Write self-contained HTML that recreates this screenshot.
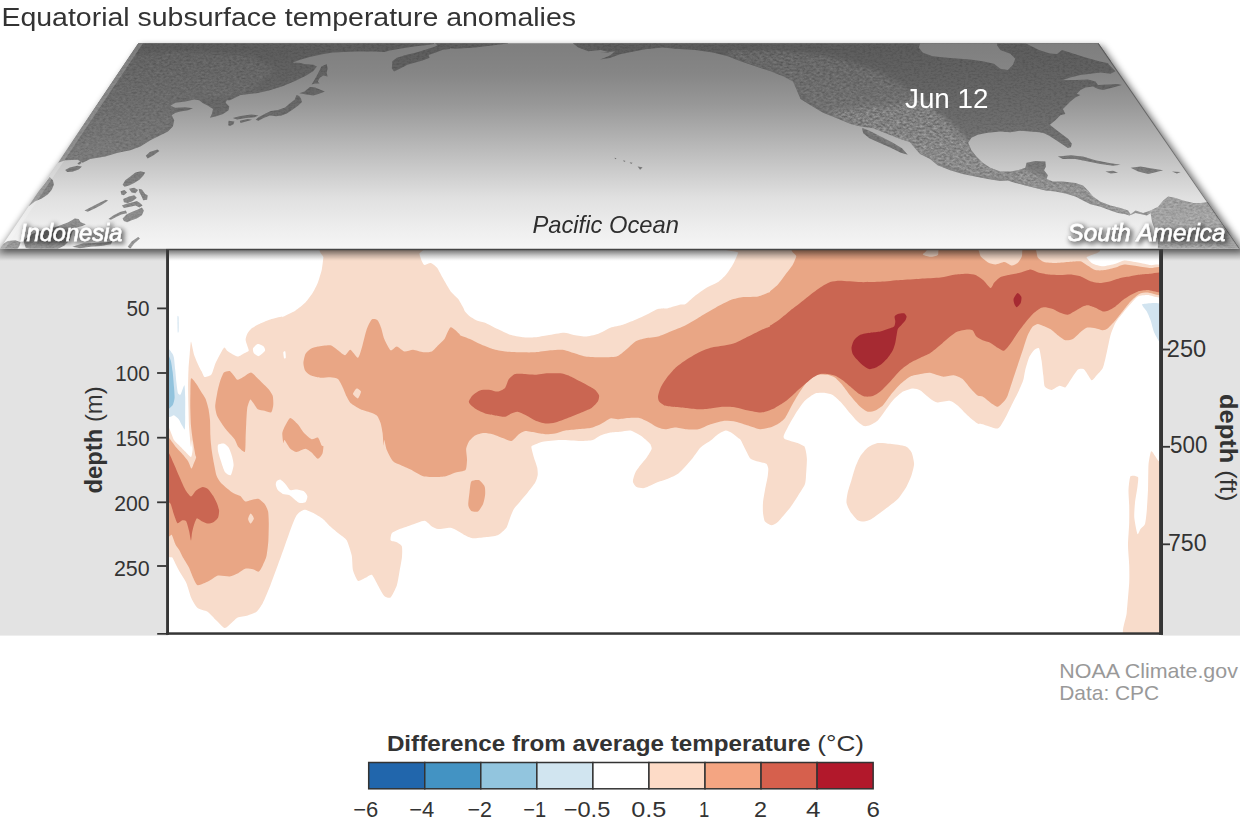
<!DOCTYPE html>
<html lang="en"><head><meta charset="utf-8"><title>Equatorial subsurface temperature anomalies</title>
<style>
html,body{margin:0;padding:0;background:#fff;}
svg{display:block;}
text{font-family:'Liberation Sans', sans-serif;}
</style></head>
<body>
<svg width="1240" height="826" viewBox="0 0 1240 826">
<defs>
<linearGradient id="ocean" x1="0" y1="43" x2="0" y2="249" gradientUnits="userSpaceOnUse">
<stop offset="0" stop-color="#7e7e7e"/><stop offset="0.15" stop-color="#868686"/><stop offset="0.3" stop-color="#989898"/><stop offset="0.5" stop-color="#b8b8b8"/><stop offset="0.75" stop-color="#e0e0e0"/><stop offset="0.9" stop-color="#eeeeee"/><stop offset="1" stop-color="#f5f5f5"/>
</linearGradient>
<linearGradient id="landg" x1="0" y1="43" x2="0" y2="249" gradientUnits="userSpaceOnUse">
<stop offset="0" stop-color="#5c5c5c"/><stop offset="0.27" stop-color="#686868"/><stop offset="0.42" stop-color="#707070"/><stop offset="0.62" stop-color="#7d7d7d"/><stop offset="0.81" stop-color="#8d8d8d"/><stop offset="1" stop-color="#9e9e9e"/>
</linearGradient>
<linearGradient id="shade" x1="0" y1="249" x2="0" y2="261" gradientUnits="userSpaceOnUse">
<stop offset="0" stop-color="#000" stop-opacity="0.16"/><stop offset="0.35" stop-color="#000" stop-opacity="0.12"/><stop offset="0.7" stop-color="#000" stop-opacity="0.08"/><stop offset="1" stop-color="#000" stop-opacity="0"/>
</linearGradient>
<clipPath id="trap"><path d="M138.3,43.3 L1098.5,43.3 L1240,248.7 L0,248.7 Z"/></clipPath>
<clipPath id="landclip">
<path d="M139.1,40 L58.1,162.8 L65.2,160.3 L77.7,159.8 L82.7,162.8 L90.2,159 L105.3,156.5 L117.8,152.8 L130.3,150.3 L140.4,146.5 L150.4,140.3 L160.4,135.2 L167.9,131.5 L172.9,126.5 L174.2,120.2 L171.7,115.2 L175.4,112.7 L180.5,111.4 L188,110.2 L193,108.2 L185.5,107.2 L175.4,107.7 L170.4,105.7 L175.4,102.7 L185.5,101.4 L194.2,99.6 L199.2,100.2 L203,103.2 L208,105.7 L213,108.9 L211.8,113.9 L210,117.7 L215.5,116.4 L223.1,113.9 L228.6,110.2 L229.3,106.4 L225.6,102.7 L226.8,100.2 L230,100.3 L240.6,95 L256.6,93.2 L269,90.6 L283.2,86.1 L295.6,80.8 L306.3,75.5 L313.4,71.1 L316.9,66.6 L313.4,64.8 L304.5,64 L299.2,62.7 L292.1,62.7 L301,59.5 L309.8,56.9 L322.3,54.2 L332.9,52.4 L354.2,51.5 L375.5,51.5 L384.4,52.1 L389.7,50.6 L398.6,48.9 L407.4,47.5 L416.3,46.2 L425.2,45.3 L434,43.9 L434,40Z"/>
<path d="M326.7,64 L327.6,68.4 L326.7,72.8 L327.6,76.4 L323.2,75.5 L319.6,78.1 L317.8,81.7 L319.6,83.5 L315.2,83.5 L311.6,84.4 L314.3,79.9 L316.9,75.5 L319.6,70.2 L321.4,66.6Z"/>
<path d="M299.2,93.2 L304.5,91.5 L309.8,87 L315.2,87.6 L320.5,89.7 L324.9,91.5 L320.5,93.2 L313.4,95.4 L306.3,94.6Z"/>
<path d="M301,98.6 L301.9,102.1 L298.3,105.6 L292.1,110.1 L286.8,113.6 L281.5,115.4 L276.1,116.3 L269.9,115.4 L263.7,118.1 L258.4,120.7 L255.7,119.8 L258.4,117.2 L265.5,113.6 L270.8,111 L277.9,110.1 L285,107.4 L290.3,103 L294.8,99.4 L296.5,95 L299.2,95.9Z"/>
<path d="M232.7,118.1 L240.6,115.9 L251.3,114.5 L258.4,115.4 L254.8,117.2 L246,118.1 L237.1,119.5Z"/>
<path d="M239.8,120.7 L247.7,119 L252.2,119.8 L246,121.6 L240.6,123Z"/>
<path d="M228.6,120.7 L234.4,121.6 L233.5,124.3 L230,126.1 L228.2,125.2Z"/>
<path d="M392.3,61.3 L396.8,57.7 L405.7,55.1 L416.3,52.4 L425.2,49.8 L434,47.1 L439.4,44.4 L450,43.9 L450,48.9 L442.9,49.8 L435.8,52.4 L428.7,55.1 L429.6,57.7 L422.5,60.4 L416.3,62.2 L407.4,64.8 L400.3,68.4 L394.1,71.6 L391.8,68.4Z"/>
<path d="M420.3,40 L435.3,43.5 L440.4,47.5 L455.4,48.8 L475.4,47.5 L495.5,45 L508,43.5 L508,40Z"/>
<path d="M573.2,40 L573.2,43.5 L578.2,47.5 L588.2,51.3 L600.8,50 L610,52.5 L600,52.5 L607.5,52 L615,51.3 L610,55.5 L600,59.5 L610,58 L620.1,54.3 L632.6,51.8 L645.1,49.3 L662.7,47.5 L675.2,48.8 L695.2,50 L712.8,52.5 L727.8,56.3 L740.4,61.3 L755.4,66.3 L770.4,71.3 L783,76.3 L793,81.4 L796.7,90.1 L800.5,98.9 L810.5,105.2 L823.1,112.7 L835.6,117.7 L850.6,124 L860.7,126.5 L873.2,128.2 L885.7,133.2 L898.2,138.2 L910,142.3 L915,148.3 L920.1,154 L930.1,159 L937.6,165.3 L950.1,170.3 L962.7,174.1 L975.2,176.6 L987.7,179.1 L1000.3,180.9 L1007.8,180.4 L1015.3,182.9 L1025.3,185.4 L1035.3,187.9 L1045.4,190.4 L1055.4,191.6 L1065.4,193.4 L1075.4,196.6 L1083,200.4 L1090.5,204.2 L1100.5,206.7 L1110.5,210.4 L1118,212.9 L1125.6,214.2 L1129.3,215.4 L1135.6,212.9 L1146.9,215.4 L1150.6,212.9 L1152.1,222 L1155.9,232 L1157.9,240 L1157.9,251 L1240.9,251 L1240.9,200.4 L1210,201.7 L1200.8,202.9 L1193.2,202.9 L1183.2,200.4 L1175.7,197.9 L1168.2,196.6 L1163.2,200.4 L1158.1,206.7 L1150.6,210.4 L1143.1,212.9 L1135.6,210.4 L1130.6,214.2 L1128.1,210.4 L1120.6,207.9 L1110.5,205.4 L1100.5,201.7 L1093,196.6 L1088,190.4 L1083,185.4 L1075.4,182.9 L1062.9,181.6 L1052.9,181.6 L1046.6,179.1 L1047.9,175.3 L1044.1,170.3 L1045.9,166.6 L1045.4,161.6 L1035.3,161.1 L1026.6,162.8 L1025.3,167.8 L1017.8,170.3 L1010.3,171.6 L1000.3,171.6 L990.2,167.8 L982.7,162.8 L976.4,156.5 L971.4,150.3 L968.2,142.8 L971.4,137.7 L977.7,134.7 L987.7,132.7 L1000.3,131.5 L1010.3,132.2 L1020.3,130.7 L1030.3,131.5 L1039.1,132.2 L1044.1,133.2 L1049.1,135.7 L1055.4,139.7 L1062.9,144.8 L1067.9,148 L1070.9,147.3 L1071.9,143.8 L1068.4,139 L1061.7,134 L1054.9,128.7 L1049.9,124.7 L1055.4,120.2 L1060.4,115.2 L1065.4,113.9 L1062.9,108.9 L1066.7,105.2 L1070.4,101.4 L1075.4,97.6 L1080.5,95.1 L1076.7,93.9 L1080.5,90.1 L1085.5,87.6 L1093,86.4 L1098,88.9 L1103,90.1 L1113,87.6 L1121.8,85.1 L1118,83.9 L1108,84.6 L1098,85.1 L1095.5,81.4 L1088,79.6 L1075.4,80.1 L1062.9,80.1 L1070.4,77.6 L1080.5,75.1 L1090.5,73.8 L1100.5,72.6 L1110.5,73.8 L1115.5,71.3 L1108,63.8 L1115.5,55 L1100.5,40Z"/>
<path d="M861.9,127.7 L869.4,130.7 L880.7,136.5 L892,142.3 L902,148.3 L907.8,154.8 L900.8,152.8 L890.7,147.8 L878.2,142.3 L869.4,138.2 L863.2,133.2Z"/>
<path d="M1057.9,156.5 L1070.4,155.3 L1083,156.5 L1095.5,160.3 L1108,162.8 L1120.6,164.8 L1113,165.8 L1100.5,164.1 L1088,161.6 L1075.4,159 L1062.9,159Z"/>
<path d="M1130.6,167.8 L1140.6,166.6 L1150.6,168.3 L1163.2,170.3 L1155.6,172.3 L1148.1,174.1 L1138.1,171.6Z"/>
<path d="M1105.5,171.6 L1113,170.8 L1118,172.8 L1110.5,173.6Z"/>
<path d="M1171.9,171.6 L1180.7,172.1 L1176.9,173.6Z"/>
<path d="M637.6,166.6 L642.6,167.3 L640.1,169.8Z"/>
<path d="M629.6,162.3 L632.6,162.8 L631.1,164.1Z"/>
<path d="M623.1,160.3 L625.6,161.1 L624.1,162.1Z"/>
<path d="M614.5,157.8 L616.5,158.3 L615.3,159.3Z"/>
<path d="M65.2,170 L69.7,167.4 L77.4,165.7 L81.9,166.5 L78.7,169.4 L72.3,171.7 L67.1,171.9Z"/>
<path d="M77.4,163.5 L80.6,161 L81.5,162.9 L79,164.7Z"/>
<path d="M25.8,206.8 L31.6,201 L37.4,192.6 L43.9,184.8 L49.7,177.1 L52.9,180.3 L53.9,184.8 L51.6,190 L47.7,194.5 L41.3,198.8 L34.8,201.4 L29.7,205.5Z"/>
<path d="M145.8,155.8 L149.7,151.9 L157.4,149.4 L159.4,151 L153.5,155.2 L147.7,158.4Z"/>
<path d="M122.6,184.8 L125.2,180.3 L130.3,176.5 L135.5,172.6 L140.6,171.3 L145.2,172.6 L143.2,175.8 L139.4,179.7 L134.2,182.9 L129,185.5 L124.5,186.8Z"/>
<path d="M120.6,191.3 L124.5,190 L127.1,192.6 L123.9,195.2 L121.3,194.5Z"/>
<path d="M129,188.7 L134.2,187.7 L138.1,190 L135.5,193.2 L131.6,192.6Z"/>
<path d="M138.7,188.7 L141.9,189.4 L145.2,193.9 L147.7,195.2 L147.1,199.7 L143.2,200.3 L141.3,195.8 L139.4,192.6Z"/>
<path d="M123.2,199 L129,196.5 L134.2,195.2 L136.8,197.7 L132.9,201 L127.7,202.9 L123.9,202.3Z"/>
<path d="M121.9,205.5 L127.1,203.5 L132.9,202.3 L136.8,201 L140,202.9 L142.6,205.5 L139.4,207.4 L135.5,205.5 L130.3,206.8 L123.9,208.1Z"/>
<path d="M122.6,218.4 L126.5,214.5 L131.6,211.9 L136.8,210 L141.9,207.4 L143.9,210.6 L141.9,215.2 L136.8,218.4 L131.6,220.3 L127.1,222.3 L123.9,221Z"/>
<path d="M108.4,219 L113.5,215.2 L120,211.9 L125.8,210.6 L127.1,213.2 L121.3,214.5 L116.1,217.1 L111,219.7Z"/>
<path d="M84.5,210.6 L90.3,207.4 L98.1,203.5 L105.8,199.7 L108.1,200.6 L101.9,204.8 L94.2,208.7 L87.7,211.7Z"/>
<path d="M23.2,240.3 L32.3,233.9 L42.6,230 L54.2,227.4 L61.9,224.8 L68.4,222.3 L74.8,218.4 L78.7,219 L80.6,222.3 L85.8,224.2 L82.6,226.1 L76.1,227.4 L72.3,232.6 L69.7,240.3 L64.5,245.5 L56.8,249.4 L38.7,250.6 L25.8,248.1Z"/>
<path d="M-2.6,250.6 L1.3,244.8 L7.7,241 L15.5,240.3 L20.6,242.3 L19.4,246.1 L15.5,251.9 L-2.6,251.9Z"/>
<path d="M72.3,246.8 L82.6,243.5 L94.2,242.9 L107.1,242.3 L112.3,241 L111,244.2 L100.6,246.1 L90.3,246.8 L80,248.3Z"/>
<path d="M127.7,246.8 L131.6,241.6 L138.1,237.1 L140,238.4 L134.2,243.5 L130.3,248.7Z"/>
</clipPath>
<filter id="relief" x="0" y="0" width="100%" height="100%"><feTurbulence type="fractalNoise" baseFrequency="0.3 0.5" numOctaves="2" seed="7" result="n"/><feColorMatrix in="n" type="matrix" values="0 0 0 0 1  0 0 0 0 1  0 0 0 0 1  0.75 0 0 0 -0.2" result="w"/><feGaussianBlur in="SourceGraphic" stdDeviation="2.5" result="b"/><feComposite in="w" in2="b" operator="in"/></filter>
<filter id="grain" x="0" y="0" width="100%" height="100%"><feTurbulence type="fractalNoise" baseFrequency="0.35 0.55" numOctaves="2" seed="11" result="n"/><feColorMatrix in="n" type="matrix" values="0 0 0 0 0  0 0 0 0 0  0 0 0 0 0  0.3 0 0 0 -0.12" result="w"/><feComposite in="w" in2="SourceGraphic" operator="in"/></filter>
<clipPath id="plot"><rect x="168" y="249" width="993" height="384.5"/></clipPath>
<filter id="blur4" x="-5%" y="-20%" width="110%" height="140%"><feGaussianBlur stdDeviation="3.5"/></filter>
<filter id="tsh" x="-10%" y="-50%" width="125%" height="230%"><feMorphology in="SourceAlpha" operator="dilate" radius="1.1" result="d"/><feGaussianBlur in="d" stdDeviation="2.8" result="b"/><feOffset in="b" dx="2.2" dy="2.3" result="o"/><feComponentTransfer in="o" result="s"><feFuncA type="linear" slope="0.55"/></feComponentTransfer><feMerge><feMergeNode in="s"/><feMergeNode in="SourceGraphic"/></feMerge></filter>
</defs>
<rect width="1240" height="826" fill="#fff"/>
<!-- side panels -->
<rect x="0" y="249" width="1240" height="386.6" fill="#e3e3e3"/>
<rect x="168" y="249" width="993" height="387" fill="#fff"/>
<g clip-path="url(#plot)">
<path d="M191,341.6 C191.4,341.6 193.2,351.8 193.9,354.2 C194.6,356.6 197.0,362.0 197.8,363.9 C198.6,365.8 201.0,370.2 201.7,371.6 C202.4,373.0 203.6,376.7 204.6,377 C205.6,377.3 210.3,375.9 211.4,374.5 C212.5,373.1 214.3,366.1 215.2,363.9 C216.1,361.7 219.1,356.0 220.1,354.2 C221.1,352.4 223.5,347.7 224.3,347.4 C225.1,347.1 226.4,350.3 227.8,351.3 C229.2,352.3 235.7,356.3 237.5,356.5 C239.3,356.7 243.1,353.8 244.3,353.2 C245.5,352.6 248.4,351.5 248.7,350.7 C249.0,349.9 247.5,346.7 247.2,345.5 C246.9,344.3 245.6,340.9 245.6,339.7 C245.6,338.5 246.5,335.1 247.2,333.9 C247.9,332.7 250.6,329.2 252,328.1 C253.4,327.0 258.7,324.1 260.7,323.2 C262.7,322.3 268.1,320.1 270.4,319.4 C272.7,318.7 280.8,316.7 282,316.5 C283.2,316.3 280.7,317.8 282.1,317.2 C283.5,316.6 292.8,312.3 295.3,310.7 C297.8,309.1 303.5,304.5 305.4,302.6 C307.3,300.7 311.6,294.7 312.9,292.6 C314.2,290.5 317.0,285.0 317.9,282.6 C318.8,280.2 321.1,272.8 321.7,270.1 C322.3,267.4 323.1,259.9 323.4,257.5 C323.7,255.1 314.0,248.6 324.2,247.5 C334.4,246.4 409.2,246.8 419.4,247.5 C429.6,248.2 419.1,252.3 419.4,253.8 C419.7,255.3 421.4,260.1 421.9,261.3 C422.4,262.5 423.5,264.9 424.4,265.1 C425.3,265.3 429.4,262.7 430.7,263 C432.0,263.3 435.6,265.9 436.9,267.6 C438.2,269.3 441.7,276.3 443.2,278.8 C444.7,281.3 449.1,289.3 450.7,291.4 C452.3,293.5 456.9,297.2 458.2,298.9 C459.5,300.6 462.6,306.4 463.3,307.7 C464.0,309.0 464.3,310.5 465,311.4 C465.7,312.3 468.7,315.4 470,316.4 C471.3,317.4 475.9,320.0 477.5,320.7 C479.1,321.4 483.0,321.8 485.1,322.7 C487.2,323.6 494.9,327.7 497.6,329 C500.3,330.3 507.4,333.8 510.1,334.7 C512.8,335.6 520.0,336.9 522.7,337.2 C525.4,337.5 532.5,337.4 535.2,337.2 C537.9,337.0 544.6,335.7 547.7,335.2 C550.8,334.7 561.3,332.8 564,332.7 C566.7,332.6 570.5,334.3 572.8,334.7 C575.1,335.1 582.6,336.6 585.3,336.5 C588.0,336.4 595.1,334.9 597.8,334 C600.5,333.1 607.7,328.7 610.4,327.7 C613.1,326.7 620.2,325.6 622.9,324.7 C625.6,323.8 632.7,320.9 635.4,319.7 C638.1,318.5 645.6,315.1 648,313.9 C650.4,312.7 655.9,309.5 658,308.9 C660.1,308.3 665.6,308.7 668,308.2 C670.4,307.7 678.7,305.1 680.6,304.6 C682.5,304.1 684.1,304.8 685.6,303.9 C687.1,303.0 692.0,298.1 694.3,296.4 C696.6,294.7 704.4,289.1 706.9,287.6 C709.4,286.1 716.1,283.4 718.1,282.1 C720.1,280.8 724.2,276.8 725.7,275.1 C727.2,273.4 730.8,268.0 731.9,266.3 C733.0,264.6 735.0,260.3 735.7,258.8 C736.4,257.3 737.8,253.7 738.2,252.5 C738.6,251.3 702.6,248.0 739.4,247.5 C776.2,247.0 1045.9,246.4 1082.9,247.5 C1119.9,248.6 1085.5,255.8 1086.6,257.5 C1087.7,259.2 1091.2,262.9 1092.9,263.8 C1094.6,264.7 1100.5,266.3 1102.9,266.3 C1105.3,266.3 1113.2,264.4 1115.5,263.8 C1117.8,263.2 1121.8,260.6 1124.2,260.5 C1126.6,260.4 1135.2,262.0 1138,262.5 C1140.8,263.0 1148.1,264.7 1150.6,265.1 C1153.1,265.5 1160.6,263.0 1161.8,266.3 C1163.0,269.6 1163.3,293.3 1161.8,296.4 C1160.3,299.5 1150.5,295.1 1148,295.1 C1145.5,295.1 1139.9,295.5 1138,296.4 C1136.1,297.3 1132.1,302.2 1130.5,303.9 C1128.9,305.6 1124.6,310.7 1123,312.7 C1121.4,314.7 1116.8,320.3 1115.5,322.7 C1114.2,325.1 1111.4,332.0 1110.5,335.2 C1109.6,338.4 1107.5,349.3 1106.7,352.8 C1105.9,356.3 1104.0,365.4 1102.9,367.8 C1101.8,370.2 1097.9,374.0 1096.7,375.3 C1095.5,376.6 1092.8,380.6 1091.7,380.3 C1090.6,380.0 1087.5,374.0 1086.6,372.8 C1085.7,371.6 1084.3,369.4 1083.4,369.1 C1082.5,368.8 1079.3,368.4 1077.9,369.6 C1076.5,370.8 1071.7,378.4 1070.4,380.3 C1069.1,382.2 1066.5,386.8 1065.3,387.4 C1064.1,388.0 1060.6,385.6 1059.1,385.9 C1057.6,386.2 1053.1,389.8 1051.6,389.9 C1050.1,390.0 1045.7,388.2 1044.8,386.6 C1043.9,385.0 1043.7,378.1 1043.3,375.3 C1042.9,372.5 1042.0,363.2 1041.5,360.3 C1041.0,357.4 1039.8,349.4 1039,348.3 C1038.2,347.2 1035.1,349.3 1034,350.3 C1032.9,351.3 1029.9,355.7 1029,357.8 C1028.1,359.9 1025.8,367.9 1025.2,370.3 C1024.6,372.7 1023.9,378.2 1023.2,380.3 C1022.5,382.4 1020.1,388.0 1019,390.4 C1017.9,392.8 1014.2,400.0 1012.7,402.9 C1011.2,405.8 1006.8,415.2 1005.2,417.9 C1003.6,420.6 1000.1,427.8 997.7,428.5 C995.3,429.2 984.7,424.7 982.6,424.2 C980.5,423.7 979.2,424.3 977.6,423.4 C976.0,422.5 969.7,417.3 967.6,415.4 C965.5,413.5 959.5,406.9 957.6,405.4 C955.7,403.9 952.2,401.2 950.1,400.9 C948.0,400.6 939.6,402.7 937.5,402.4 C935.4,402.1 931.8,399.7 930,398.4 C928.2,397.1 922.2,391.5 920.4,390.4 C918.6,389.3 914.8,388.3 912.9,388.4 C911.0,388.5 905.0,390.3 902.9,391.6 C900.8,392.9 894.7,398.4 892.8,400.4 C890.9,402.4 886.9,408.3 885.3,410.4 C883.7,412.5 879.4,418.9 877.8,420.4 C876.2,421.9 871.8,424.3 870.3,424.9 C868.8,425.5 865.5,426.5 864,426 C862.5,425.5 858.2,422.1 856.5,420.4 C854.8,418.7 849.4,412.4 847.7,410.4 C846.0,408.4 841.8,403.3 840.2,401.6 C838.6,399.9 834.3,395.8 832.7,394.9 C831.1,394.0 827.1,393.1 825.2,392.9 C823.3,392.7 817.2,392.6 815.1,393.4 C813.0,394.2 807.0,398.6 805.1,400.4 C803.2,402.2 799.2,408.0 797.6,410.4 C796.0,412.8 791.6,420.2 790.1,422.9 C788.6,425.6 784.3,433.8 783.8,435.5 C783.3,437.2 783.6,438.4 785.1,439.2 C786.6,440.0 795.5,442.2 797.6,443 C799.7,443.8 805.1,446.8 805.1,446.8 C805.1,446.8 797.7,443.0 797.6,443 C797.5,443.0 803.6,445.3 804.6,447 C805.6,448.7 806.8,455.5 806.9,458.8 C807.0,462.1 806.1,474.8 805.9,477.6 C805.7,480.4 805.5,483.1 804.6,485.1 C803.7,487.1 799.1,494.0 797.6,496.4 C796.1,498.8 791.6,505.7 790.1,507.7 C788.6,509.7 785.1,513.7 783.8,515.2 C782.5,516.7 778.8,521.1 777.5,522.2 C776.2,523.3 772.6,525.3 771.3,525.2 C770.0,525.1 765.9,522.8 765,521.5 C764.1,520.2 763.2,514.7 763,512.7 C762.8,510.7 762.8,505.1 763,502.7 C763.2,500.3 764.5,492.8 765,490.1 C765.5,487.4 767.1,479.9 767.5,477.6 C767.9,475.3 768.4,470.3 768.3,468.8 C768.2,467.3 767.2,464.5 766.3,463.8 C765.4,463.1 761.7,462.6 760,462.1 C758.3,461.6 752.2,460.1 750.7,458.8 C749.2,457.5 746.8,452.0 745.7,450 C744.6,448.0 741.5,441.3 740.7,440 C739.9,438.7 739.1,438.7 738.2,438 C737.3,437.3 733.2,433.8 731.9,433 C730.6,432.2 727.2,430.4 725.7,430.5 C724.2,430.6 719.7,433.1 718.1,434.2 C716.5,435.3 712.5,439.1 710.6,440.5 C708.7,441.9 702.5,445.7 700.6,447.5 C698.7,449.3 694.7,455.5 693.1,457.5 C691.5,459.5 687.2,464.6 685.6,466.3 C684.0,468.0 679.9,472.5 678,473.8 C676.1,475.1 670.1,477.9 668,478.8 C665.9,479.7 659.9,481.4 658,482.1 C656.1,482.8 652.0,485.0 650.5,485.6 C649.0,486.2 645.7,487.9 644.2,488.1 C642.7,488.3 637.9,487.8 636.7,487.1 C635.5,486.4 633.0,482.9 632.9,481.4 C632.8,479.9 634.6,474.3 635.4,472.6 C636.2,470.9 639.3,466.7 640.5,465.1 C641.7,463.5 645.5,459.2 646.7,457.5 C647.9,455.8 651.4,450.5 651.7,448.8 C652.0,447.1 649.2,441.7 649.2,441.3 C649.2,440.9 651.8,445.5 651.7,445.5 C651.6,445.5 649.2,442.8 648,441.7 C646.8,440.6 642.4,436.7 640.5,435.5 C638.6,434.3 632.5,430.9 630.4,430.5 C628.3,430.1 622.5,431.5 620.4,431.7 C618.3,431.9 612.5,432.1 610.4,432.5 C608.3,432.9 602.3,434.7 600.4,435.5 C598.5,436.3 594.9,439.4 592.8,440 C590.7,440.6 583.8,441.0 580.3,441 C576.8,441.0 564.3,439.9 560.3,440 C556.3,440.1 545.6,441.1 542.7,441.7 C539.8,442.3 533.9,444.9 532.7,445.5 C531.5,446.1 531.3,446.2 531.4,447.5 C531.5,448.8 533.3,455.4 533.9,457.5 C534.5,459.6 536.8,465.7 537.2,467.6 C537.6,469.5 537.9,473.5 537.7,475.1 C537.5,476.7 536.3,480.7 535.2,482.6 C534.1,484.5 529.3,490.6 527.7,492.6 C526.1,494.6 521.7,499.7 520.2,501.4 C518.7,503.1 515.0,507.2 513.9,508.9 C512.8,510.6 510.9,515.7 510.1,517.7 C509.3,519.7 507.7,525.8 506.4,527.7 C505.1,529.6 499.9,534.2 497.6,535.2 C495.3,536.2 487.8,536.9 485.1,537.2 C482.4,537.5 474.6,538.4 472.5,538.2 C470.4,538.0 466.3,535.8 465,535.2 C463.7,534.6 461.5,533.0 460,532.2 C458.5,531.4 453.0,528.0 450.7,527.7 C448.4,527.4 440.2,529.1 438.2,529 C436.2,528.9 433.4,527.4 431.9,526.5 C430.4,525.6 426.7,520.8 424.4,520.7 C422.1,520.6 413.4,524.2 410.6,525.2 C407.8,526.2 400.1,528.8 398.1,529.7 C396.1,530.6 392.6,532.1 391.8,533.2 C391.0,534.3 390.1,539.3 390.6,540.3 C391.1,541.3 395.6,541.6 396.8,542.3 C398.0,543.0 401.4,544.8 401.9,546.5 C402.4,548.2 402.2,555.0 401.9,557.8 C401.6,560.6 399.8,569.9 399.3,572.8 C398.8,575.7 397.7,582.8 396.8,585.4 C395.9,588.0 391.9,596.3 390.6,597.4 C389.3,598.5 385.6,597.2 384.3,595.9 C383.0,594.6 379.3,587.7 378,585.4 C376.7,583.1 373.1,575.6 371.8,574.8 C370.5,574.0 367.0,577.1 365.5,577.8 C364.0,578.5 359.3,581.7 358,580.9 C356.7,580.1 353.7,573.0 353,570.3 C352.3,567.6 352.4,558.5 351.7,555.3 C351.0,552.1 348.0,542.6 346.7,540.3 C345.4,538.0 340.9,535.5 339.2,534 C337.5,532.5 332.1,528.1 330.4,526.5 C328.7,524.9 324.8,520.4 322.9,518.9 C321.0,517.4 314.9,513.7 312.9,512.7 C310.9,511.7 305.8,509.4 304.1,509.7 C302.4,510.0 298.1,513.0 296.6,515.2 C295.1,517.4 291.6,526.7 290.3,530.2 C289.0,533.7 285.4,544.1 284.1,547.8 C282.8,551.5 279.3,561.3 277.8,565.3 C276.3,569.3 271.9,581.4 270.3,585.4 C268.7,589.4 264.3,600.1 262.8,602.9 C261.3,605.7 258.1,610.4 256.5,611.7 C254.9,613.0 249.7,614.8 247.7,615.4 C245.7,616.0 239.4,616.6 237.7,617.4 C236.0,618.2 232.8,621.9 231.4,623 C230.0,624.1 226.3,628.3 224.7,628 C223.1,627.7 218.2,622.2 216.4,620.5 C214.6,618.8 209.6,613.0 207.6,611.7 C205.6,610.4 199.3,609.4 197.6,607.9 C195.9,606.4 192.5,600.6 191.3,597.9 C190.1,595.2 187.6,585.8 186.3,582.9 C185.0,580.0 180.3,573.0 178.8,570.3 C177.3,567.6 173.8,560.2 172.5,557.8 C171.2,555.4 167.5,561.6 167,547.8 C166.5,534.0 167.1,441.4 167.4,428.7 C167.7,416.0 168.7,427.5 169.4,428.7 C170.1,429.9 173.0,438.3 174,440 C175.0,441.7 177.3,443.6 178.5,444.8 C179.7,446.0 183.9,450.3 185.2,451.6 C186.5,452.9 190.2,457.2 191,457 C191.8,456.8 192.5,451.5 192.6,449.7 C192.7,447.9 192.2,440.3 192,440 C191.8,439.7 191.3,448.4 191,447.1 C190.7,445.8 189.4,431.8 189.1,427.7 C188.8,423.6 188.6,412.7 188.5,408.4 C188.4,404.1 188.1,391.2 188.1,387.1 C188.1,383.0 188.3,373.2 188.5,369.7 C188.7,366.2 189.4,357.2 189.7,354.2 C190.0,351.2 190.6,341.6 191,341.6Z" fill="#f8dccb" />
<path d="M877.8,443 C880.2,442.6 887.4,443.4 890.3,443.8 C893.2,444.2 903.1,445.4 905.4,446.3 C907.7,447.2 910.7,450.6 911.6,452.5 C912.5,454.4 914.1,461.4 914.1,463.8 C914.1,466.2 912.4,472.7 911.6,475.1 C910.8,477.5 908.1,483.9 906.6,486.4 C905.1,488.9 900.1,496.5 897.8,498.9 C895.5,501.3 888.1,506.8 885.3,508.9 C882.5,511.0 873.8,517.6 871.5,518.9 C869.2,520.2 865.5,521.4 864,521.5 C862.5,521.6 859.2,521.3 857.7,520.2 C856.2,519.1 851.4,513.3 850.2,511.4 C849.0,509.5 846.8,504.7 846.5,502.7 C846.2,500.7 847.2,495.0 847.7,492.6 C848.2,490.2 850.7,482.8 851.5,480.1 C852.3,477.4 854.3,470.1 855.2,467.6 C856.1,465.1 859.0,458.4 860.3,456.3 C861.6,454.2 865.9,448.9 867.8,447.5 C869.7,446.1 875.4,443.4 877.8,443Z" fill="#f8dccb" />
<path d="M1151.1,451.3 C1151.8,450.3 1154.0,454.4 1154.8,455.5 C1155.6,456.6 1157.7,460.3 1158.6,461.3 C1159.5,462.3 1162.6,446.5 1163.1,465.1 C1163.6,483.7 1167.2,617.3 1163.1,635.5 C1159.0,653.7 1128.1,637.9 1124.2,635.5 C1120.3,633.1 1126.2,618.5 1126.7,612.9 C1127.2,607.3 1128.9,588.0 1129.2,582.9 C1129.5,577.8 1129.3,569.3 1129.2,565.3 C1129.1,561.3 1128.0,549.8 1128,545.3 C1128.0,540.8 1129.1,527.0 1129.2,522.7 C1129.3,518.4 1129.3,508.7 1129.2,505.2 C1129.1,501.7 1128.4,493.2 1128.5,490.1 C1128.6,487.0 1129.5,477.7 1130.5,476.3 C1131.5,474.9 1137.3,476.0 1138,477.1 C1138.7,478.2 1137.8,483.7 1137.5,486.4 C1137.2,489.1 1135.3,499.4 1135,502.7 C1134.7,506.0 1134.0,514.4 1134.3,517.7 C1134.6,521.0 1136.8,532.8 1137.5,534 C1138.2,535.2 1139.7,530.1 1140.5,529 C1141.3,527.9 1144.3,526.0 1145,524 C1145.7,522.0 1146.5,513.8 1146.8,510.2 C1147.1,506.6 1147.8,494.9 1148,490.1 C1148.2,485.3 1148.2,469.2 1148.5,465.1 C1148.8,461.0 1150.4,452.3 1151.1,451.3Z" fill="#f8dccb" />
<path d="M253,348.4 C253.4,347.4 256.7,344.3 257.8,344.1 C258.9,343.9 262.8,345.7 263.6,346.4 C264.4,347.1 265.5,349.7 265,350.7 C264.5,351.7 260.0,355.8 258.8,356.1 C257.6,356.4 254.5,354.0 253.9,353.2 C253.3,352.4 252.6,349.4 253,348.4Z" fill="#fff" />
<path d="M283.3,352.3 C283.4,351.6 285.0,350.9 285.3,351.5 C285.6,352.1 285.9,357.1 285.8,357.8 C285.7,358.5 284.4,358.9 284.1,358.3 C283.8,357.7 283.2,353.0 283.3,352.3Z" fill="#fff" />
<path d="M218.1,444.8 C218.7,443.9 222.8,443.2 223.9,443.5 C225.0,443.8 227.9,446.3 228.8,447.7 C229.7,449.1 231.6,454.6 232.1,456.5 C232.6,458.4 233.7,463.2 233.6,465.2 C233.5,467.2 231.6,474.5 230.7,475.2 C229.8,475.9 225.9,473.4 224.9,471.9 C223.9,470.4 221.7,463.5 221,461.3 C220.3,459.1 218.4,453.4 218.1,451.6 C217.8,449.8 217.5,445.7 218.1,444.8Z" fill="#fff" />
<path d="M276.5,481.4 C277.0,480.8 279.4,479.3 280.3,479.6 C281.2,479.9 284.2,482.8 285.3,483.9 C286.4,485.0 289.1,489.5 290.3,490.1 C291.5,490.7 295.1,489.5 296.6,489.6 C298.1,489.7 302.9,490.7 304.1,491.4 C305.3,492.1 307.3,495.2 307.4,496.4 C307.5,497.6 306.3,501.5 305.4,502.2 C304.5,502.9 300.3,503.1 299.1,502.7 C297.9,502.3 295.2,499.7 294.1,498.9 C293.0,498.1 290.3,495.6 289.1,495.1 C287.9,494.6 284.0,494.4 282.8,493.9 C281.6,493.4 278.5,491.0 277.8,490.1 C277.1,489.2 275.9,486.0 275.8,485.1 C275.7,484.2 276.0,482.0 276.5,481.4Z" fill="#fff" />
<path d="M167.4,438.4 C167.6,428.5 168.4,437.4 169.4,438.4 C170.4,439.4 175.0,445.9 176.5,447.7 C178.0,449.5 182.1,453.6 183.3,455.1 C184.5,456.6 187.2,459.9 188.1,461.3 C189.0,462.7 190.8,468.4 191.4,468.6 C192.0,468.8 193.4,464.4 193.9,463.2 C194.4,462.0 196.0,458.3 196.1,457.4 C196.2,456.5 195.6,456.5 195.3,454.8 C195.0,453.1 193.5,444.4 193,441.3 C192.5,438.2 191.3,429.3 191,425.8 C190.7,422.3 190.4,411.9 190.3,408.4 C190.2,404.9 190.3,396.1 190.4,392.9 C190.5,389.7 190.4,379.4 191,378.4 C191.6,377.4 194.9,381.9 195.9,383.2 C196.9,384.5 199.7,389.3 200.7,391 C201.7,392.7 204.7,396.8 205.5,398.7 C206.3,400.6 207.9,406.1 208.4,408.4 C208.9,410.7 209.8,417.1 210,420 C210.2,422.9 210.3,433.0 210.4,435.5 C210.5,438.0 210.8,442.2 211,443.9 C211.2,445.6 211.6,449.5 211.9,451.6 C212.2,453.7 213.4,460.6 213.9,463.2 C214.4,465.8 215.9,473.8 216.6,475.8 C217.3,477.8 219.4,481.0 220.4,482.2 C221.4,483.4 224.5,486.2 225.9,487.4 C227.3,488.6 232.1,492.3 233.6,493.2 C235.1,494.1 239.2,495.2 240.4,496.1 C241.6,497.0 243.9,501.1 245.2,501.5 C246.5,501.9 251.5,499.9 253,499.6 C254.5,499.3 257.6,498.5 258.8,499 C260.0,499.5 263.6,502.6 264.6,503.9 C265.6,505.2 267.7,509.5 268.1,511.6 C268.5,513.7 268.8,520.1 268.8,523.2 C268.8,526.3 268.6,537.1 268.4,540.6 C268.2,544.1 267.1,553.4 266.5,556.1 C265.9,558.8 263.4,564.1 262.6,565.8 C261.8,567.5 259.8,571.2 258.8,571.6 C257.8,572.0 254.5,569.6 253,569.3 C251.5,569.0 246.9,568.3 245.2,568.7 C243.5,569.1 239.2,572.7 237.5,573.5 C235.8,574.3 231.8,576.2 229.7,576.4 C227.6,576.6 220.4,575.0 218.1,575.5 C215.8,576.0 210.6,580.3 208.4,581.3 C206.2,582.3 199.4,585.6 197.8,585.2 C196.2,584.8 193.9,579.3 193,577.4 C192.1,575.5 190.1,569.8 189.1,567.7 C188.1,565.6 184.3,560.0 183.3,558.1 C182.3,556.2 180.2,551.8 179.4,550.3 C178.6,548.8 176.3,546.2 175.5,544.5 C174.7,542.8 172.6,536.2 171.7,534.8 C170.8,533.4 167.9,541.3 167.4,531 C166.9,520.7 167.2,448.3 167.4,438.4Z" fill="#e9a685" />
<path d="M223.9,372.6 C224.9,371.5 228.6,370.6 229.7,371 C230.8,371.4 233.8,375.5 234.6,376.4 C235.4,377.3 236.5,379.7 237.5,379.7 C238.5,379.7 242.9,377.2 244.3,376.4 C245.7,375.6 249.7,372.5 251,372.6 C252.3,372.7 255.6,376.3 256.8,377.4 C258.0,378.5 261.4,382.0 262.6,383.2 C263.8,384.4 267.3,387.7 268.4,389 C269.5,390.3 272.2,394.1 272.7,395.8 C273.2,397.5 273.4,402.7 273.3,404.5 C273.2,406.3 272.2,411.6 271.3,412.3 C270.4,413.0 266.0,411.0 264.6,410.7 C263.2,410.4 259.0,410.2 257.8,409.3 C256.6,408.4 253.8,403.6 253,402.6 C252.2,401.6 250.7,399.1 250.1,399.7 C249.5,400.3 247.6,405.8 247.2,408.4 C246.8,411.0 246.4,420.6 246.2,423.9 C246.0,427.2 245.7,436.3 245.6,439.3 C245.5,442.3 245.6,451.1 244.8,451.9 C244.0,452.7 239.5,448.4 238.4,447.1 C237.3,445.8 235.7,441.0 234.6,439.3 C233.5,437.6 229.1,433.2 227.8,431.6 C226.5,430.0 223.1,425.6 222,423.9 C220.9,422.2 217.9,418.0 217.2,416.1 C216.5,414.2 215.2,408.9 215.2,406.4 C215.2,403.9 216.7,395.6 217.2,392.9 C217.7,390.2 219.4,383.5 220.1,381.3 C220.8,379.1 222.9,373.7 223.9,372.6Z" fill="#e9a685" />
<path d="M290.3,417.9 C291.6,417.8 296.3,422.6 297.8,424.2 C299.3,425.8 302.6,431.4 304.1,433 C305.6,434.6 310.1,438.7 311.6,439.2 C313.1,439.7 316.8,436.8 317.9,437.5 C319.0,438.2 321.1,444.6 321.7,445.5 C322.3,446.4 323.3,445.4 323.4,446.3 C323.5,447.2 323.0,452.5 322.4,453.8 C321.8,455.1 319.1,458.9 317.9,458.8 C316.7,458.7 312.9,453.6 311.6,452.5 C310.3,451.4 307.0,448.9 305.4,448.8 C303.8,448.7 298.2,452.0 296.6,452 C295.0,452.0 291.6,450.1 290.3,448.8 C289.0,447.5 285.3,440.6 284.6,440 C283.9,439.4 283.5,443.7 283.3,443 C283.1,442.3 282.1,434.9 282.3,433 C282.5,431.1 284.4,427.1 285.3,425.5 C286.2,423.9 289.0,418.0 290.3,417.9Z" fill="#e9a685" />
<path d="M471.3,481.4 C472.3,480.1 477.4,479.6 478.8,480.1 C480.2,480.6 483.9,484.8 484.6,486.4 C485.3,488.0 485.3,493.2 485.1,495.1 C484.9,497.0 483.9,502.2 483.1,503.9 C482.3,505.6 479.3,510.7 478,511.4 C476.7,512.1 472.3,511.6 471.3,510.9 C470.3,510.2 468.5,507.2 468.3,505.2 C468.1,503.2 469.2,495.1 469.5,492.6 C469.8,490.1 470.3,482.7 471.3,481.4Z" fill="#e9a685" />
<path d="M303.4,362.8 C303.5,361.1 304.7,355.5 305.4,354 C306.1,352.5 309.1,349.8 310.4,349 C311.7,348.2 315.8,346.9 317.9,346.5 C320.0,346.1 328.3,344.9 330.4,345.3 C332.5,345.7 336.3,349.2 337.9,350.3 C339.5,351.4 343.7,355.4 345,355.3 C346.3,355.2 349.1,349.5 350.5,349.8 C351.9,350.1 356.7,358.3 358,357.8 C359.3,357.3 361.6,348.4 362.5,345.3 C363.4,342.2 365.8,331.8 366.8,329 C367.8,326.2 370.7,320.3 371.8,319.4 C372.9,318.5 376.5,319.3 377.5,320.2 C378.5,321.1 380.4,325.7 381.1,327.7 C381.8,329.7 383.3,336.6 384.3,339 C385.3,341.4 389.3,349.5 390.6,350.3 C391.9,351.1 395.3,346.4 396.8,346.5 C398.3,346.6 402.7,351.1 404.4,351.5 C406.1,351.9 411.1,349.7 413.1,349.8 C415.1,349.9 421.2,352.1 423.2,352.3 C425.2,352.5 430.3,352.2 431.9,351.5 C433.5,350.8 436.9,346.6 438.2,345.3 C439.5,344.0 443.2,340.9 444.5,339 C445.8,337.1 449.1,327.7 450.7,327.2 C452.3,326.7 458.5,333.1 459.5,334 C460.5,334.9 458.9,334.7 460,335.2 C461.1,335.7 467.9,338.1 470,339 C472.1,339.9 477.7,342.9 480.1,344 C482.5,345.1 489.9,348.2 492.6,349 C495.3,349.8 502.2,351.1 505.1,351.5 C508.0,351.9 517.0,352.2 520.2,352.3 C523.4,352.4 532.0,352.5 535.2,352.3 C538.4,352.1 547.3,350.6 550.2,350.3 C553.1,350.0 560.4,349.5 562.8,349.8 C565.2,350.1 570.4,352.1 572.8,352.8 C575.2,353.5 582.4,356.0 585.3,356.5 C588.2,357.0 597.1,357.3 600.4,357.3 C603.7,357.3 613.9,357.2 616.6,356.5 C619.3,355.8 623.4,351.9 625.4,350.3 C627.4,348.7 633.3,342.8 635.4,341.5 C637.5,340.2 643.1,338.7 645.5,338.2 C647.9,337.7 655.3,337.2 658,336.5 C660.7,335.8 667.6,332.7 670.5,331.5 C673.4,330.3 682.4,326.8 685.6,325.2 C688.8,323.6 697.4,318.3 700.6,316.4 C703.8,314.5 712.4,309.4 715.6,307.7 C718.8,306.0 727.8,301.2 730.7,300.1 C733.6,299.0 740.3,297.5 743.2,297.1 C746.1,296.7 755.3,296.9 758.2,296.4 C761.1,295.9 768.7,292.6 770,292.1 C771.3,291.6 769.2,292.1 770,291.4 C770.8,290.7 775.9,286.8 777.5,285.1 C779.1,283.4 783.5,277.2 785.1,275.1 C786.7,273.0 791.4,267.1 792.6,265.1 C793.8,263.1 795.8,258.2 796.3,256.3 C796.8,254.4 784.4,248.4 797.6,247.5 C810.8,246.6 907.0,246.8 920.4,247.5 C933.8,248.2 921.8,253.5 922.9,254.5 C924.0,255.5 928.8,256.7 930.4,256.8 C932.0,256.9 936.8,256.0 937.9,255 C939.0,254.0 937.0,248.3 941,247.5 C945.0,246.7 971.3,246.6 975.5,247.5 C979.7,248.4 979.3,254.7 980.6,256.3 C981.9,257.9 986.5,261.6 988.1,262.5 C989.7,263.4 993.9,264.6 995.6,264.5 C997.3,264.4 1002.7,261.9 1004.4,262 C1006.1,262.1 1010.4,265.5 1011.9,265.6 C1013.4,265.7 1017.0,263.5 1018.1,262.5 C1019.2,261.5 1021.4,257.9 1021.9,256.3 C1022.4,254.7 1021.8,248.4 1023.2,247.5 C1024.6,246.6 1033.2,246.4 1034.8,247.5 C1036.4,248.6 1036.8,256.0 1037.8,257.5 C1038.8,259.0 1042.1,261.4 1044,262 C1045.9,262.6 1052.8,263.0 1055.3,263 C1057.8,263.0 1065.1,262.2 1067.8,262 C1070.5,261.8 1078.4,261.0 1080.4,261.3 C1082.4,261.6 1085.0,264.2 1086.6,265.1 C1088.2,266.0 1093.4,269.6 1095.4,270.1 C1097.4,270.6 1103.3,270.4 1105.4,270.1 C1107.5,269.8 1113.5,268.2 1115.5,267.6 C1117.5,267.0 1121.8,264.6 1124.2,264.5 C1126.6,264.4 1135.2,265.9 1138,266.3 C1140.8,266.7 1148.1,267.9 1150.6,268.1 C1153.1,268.3 1160.6,265.5 1161.8,268.3 C1163.0,271.1 1163.3,291.8 1161.8,294.4 C1160.3,297.0 1150.4,292.7 1148,292.6 C1145.6,292.5 1141.2,293.0 1139.3,293.9 C1137.4,294.8 1132.2,299.6 1130.5,301.4 C1128.8,303.2 1124.6,308.7 1123,310.7 C1121.4,312.7 1117.1,318.3 1115.5,320.2 C1113.9,322.1 1109.2,327.1 1107.9,328.2 C1106.6,329.3 1104.2,330.2 1102.9,330.2 C1101.6,330.2 1097.1,328.5 1095.4,328.2 C1093.7,327.9 1088.2,327.3 1086.6,327.7 C1085.0,328.1 1081.9,331.0 1080.4,332.2 C1078.9,333.4 1074.5,338.1 1072.9,339 C1071.3,339.9 1066.9,340.6 1065.3,340.2 C1063.7,339.8 1059.4,336.4 1057.8,335.2 C1056.2,334.0 1051.9,330.0 1050.3,329 C1048.7,328.0 1044.1,326.2 1042.8,325.7 C1041.5,325.2 1038.9,323.8 1037.8,323.9 C1036.7,324.0 1033.9,325.3 1032.8,326.5 C1031.7,327.7 1028.8,332.7 1027.7,335.2 C1026.6,337.7 1023.8,347.1 1022.7,350.3 C1021.6,353.5 1018.8,362.1 1017.7,365.3 C1016.6,368.5 1013.8,377.1 1012.7,380.3 C1011.6,383.5 1008.6,393.1 1007.7,395.4 C1006.8,397.7 1005.0,400.4 1003.9,401.6 C1002.8,402.8 999.2,406.6 997.7,406.7 C996.2,406.8 991.8,403.5 990.2,402.4 C988.6,401.3 983.9,397.3 982.6,396.6 C981.3,395.9 978.9,396.3 977.6,395.4 C976.3,394.5 971.7,389.6 970.1,387.9 C968.5,386.2 964.3,380.4 962.6,379.1 C960.9,377.8 955.9,375.6 953.8,375.3 C951.7,375.0 945.0,376.9 942.5,376.6 C940.0,376.3 932.4,373.1 930,372.8 C927.6,372.5 922.5,373.7 920.4,374.1 C918.3,374.5 912.5,375.5 910.4,376.6 C908.3,377.7 902.5,382.1 900.4,384.1 C898.3,386.1 892.2,393.1 890.3,395.4 C888.4,397.7 884.4,403.8 882.8,405.4 C881.2,407.0 876.9,409.7 875.3,410.4 C873.7,411.1 869.4,412.1 867.8,411.7 C866.2,411.3 862.2,408.4 860.3,406.7 C858.4,405.0 852.1,397.7 850.2,395.4 C848.3,393.1 844.3,387.3 842.7,385.4 C841.1,383.5 836.8,378.9 835.2,377.8 C833.6,376.7 829.6,375.1 827.7,374.8 C825.8,374.5 819.7,374.1 817.6,374.8 C815.5,375.5 809.5,379.8 807.6,381.6 C805.7,383.4 801.7,389.2 800.1,391.6 C798.5,394.0 794.2,401.3 792.6,404.1 C791.0,406.9 786.7,415.8 785.1,417.9 C783.5,420.0 779.1,423.2 777.5,424.2 C775.9,425.2 771.9,427.0 770,427.5 C768.1,428.0 762.3,429.4 760,429.2 C757.7,429.0 750.8,426.3 748.2,425.5 C745.6,424.7 738.4,422.2 735.7,421.7 C733.0,421.2 725.9,420.6 723.2,420.9 C720.5,421.2 713.3,423.3 710.6,424.2 C707.9,425.1 700.8,428.7 698.1,429.2 C695.4,429.7 688.0,429.4 685.6,429.2 C683.2,429.0 677.6,427.5 675.5,427.5 C673.4,427.5 667.4,429.2 665.5,429.2 C663.6,429.2 659.9,428.3 658,427.5 C656.1,426.7 650.0,422.7 648,421.7 C646.0,420.7 641.3,418.3 639.2,417.9 C637.1,417.5 630.2,417.8 627.9,417.9 C625.6,418.0 619.8,419.1 617.9,419.2 C616.0,419.3 612.3,417.9 610.4,418.4 C608.5,418.9 602.5,423.2 600.4,424.2 C598.3,425.2 592.7,427.5 590.3,428 C587.9,428.5 580.5,428.9 577.8,429.2 C575.1,429.5 567.7,430.0 565.3,430.5 C562.9,431.0 557.3,433.1 555.2,433.5 C553.1,433.9 547.3,434.3 545.2,434.2 C543.1,434.1 537.3,432.8 535.2,432.5 C533.1,432.2 526.9,430.8 525.2,431 C523.5,431.2 520.4,433.1 518.9,434.2 C517.4,435.3 513.1,440.6 511.4,441 C509.7,441.4 504.6,438.7 502.6,438 C500.6,437.3 494.6,434.7 492.6,434.2 C490.6,433.7 485.7,432.9 483.8,433 C481.9,433.1 476.6,434.6 475,435.5 C473.4,436.4 469.7,440.4 468.8,441.7 C467.9,443.0 466.6,446.9 466.3,448 C466.0,449.1 466.2,450.7 466.3,452 C466.4,453.3 467.1,458.2 467,460.1 C466.9,462.0 466.7,468.8 465.5,470.1 C464.3,471.4 457.8,471.9 455.7,472.6 C453.6,473.3 447.8,475.8 445.7,476.3 C443.6,476.8 438.1,477.1 435.7,477.1 C433.3,477.1 425.9,477.1 423.2,476.3 C420.5,475.5 413.0,470.8 410.6,469.6 C408.2,468.4 402.5,466.0 400.6,465.1 C398.7,464.2 394.6,462.9 393.1,461.3 C391.6,459.7 387.7,452.3 386.8,450 C385.9,447.7 384.6,440.5 384.3,440 C384.0,439.5 383.8,446.2 383.6,445.5 C383.4,444.8 382.9,435.4 382.6,433 C382.3,430.6 381.2,424.8 380.6,422.9 C380.0,421.0 377.9,416.5 376.8,415.4 C375.7,414.3 372.2,413.1 370.5,412.4 C368.8,411.7 362.6,410.2 360.5,409.2 C358.4,408.2 352.0,404.2 350.5,402.9 C349.0,401.6 347.5,398.2 346.7,396.6 C345.9,395.0 343.9,389.8 343,387.9 C342.1,386.0 339.2,380.2 337.9,379.1 C336.6,378.0 332.3,377.4 330.4,377.3 C328.5,377.2 322.5,378.0 320.4,377.8 C318.3,377.6 312.1,376.1 310.4,375.3 C308.7,374.5 305.6,371.6 304.9,370.3 C304.2,369.0 303.3,364.5 303.4,362.8Z" fill="#e9a685" />
<path d="M356.7,388.6 C357.6,388.3 360.9,390.6 361,391.6 C361.1,392.6 358.9,398.1 358,398.4 C357.1,398.7 353.1,395.1 353,394.1 C352.9,393.1 355.8,388.9 356.7,388.6Z" fill="#f8dccb" />
<path d="M250.6,513.5 C251.2,513.4 253.9,517.3 253.9,518.4 C253.9,519.5 251.2,523.5 250.6,523.6 C250.0,523.7 248.1,520.1 248.1,519 C248.1,517.9 250.0,513.6 250.6,513.5Z" fill="#f8dccb" />
<path d="M167.4,453.9 C167.6,449.2 168.7,452.9 169.4,453.9 C170.1,454.9 172.5,460.8 173.6,463.2 C174.7,465.6 178.2,474.0 179.4,476.8 C180.6,479.6 184.0,487.3 185.2,489.4 C186.4,491.5 189.9,496.4 191,496.5 C192.1,496.6 194.7,491.7 195.9,490.7 C197.1,489.7 201.3,487.1 202.6,487 C203.9,486.9 207.3,488.4 208.4,489.4 C209.5,490.4 212.4,494.6 213.3,496.1 C214.2,497.6 216.6,502.4 217.2,503.9 C217.8,505.4 219.0,509.2 219.1,510.6 C219.2,512.0 218.7,516.2 218.1,517.4 C217.5,518.6 214.4,521.6 213.3,522.3 C212.2,523.0 208.7,523.7 207.5,523.6 C206.3,523.5 202.8,521.9 201.7,521.3 C200.6,520.7 197.6,518.0 196.8,518.4 C196.0,518.8 194.4,523.7 193.9,525.2 C193.4,526.7 192.3,531.3 192,532.9 C191.7,534.5 191.3,540.8 191,540.6 C190.7,540.4 189.6,533.1 189.1,531 C188.6,528.9 186.9,522.4 186.2,521.3 C185.5,520.2 183.2,520.1 182.3,520.3 C181.4,520.5 178.4,523.9 177.5,523.2 C176.6,522.5 174.3,515.6 173.6,513.5 C172.9,511.4 171.4,505.5 170.7,503.9 C170.0,502.3 167.8,503.4 167.4,498.1 C167.0,492.8 167.2,458.6 167.4,453.9Z" fill="#ca6652" />
<path d="M468.8,401.6 C468.9,400.5 471.3,396.6 472.5,395.4 C473.7,394.2 478.2,391.0 480.1,390.4 C482.0,389.8 488.2,389.8 490.1,389.9 C492.0,390.0 496.0,391.8 497.6,391.6 C499.2,391.4 503.9,389.2 505.1,387.9 C506.3,386.6 507.8,380.6 508.9,379.1 C510.0,377.6 513.4,374.6 515.1,374.1 C516.8,373.6 523.1,374.0 525.2,374.1 C527.3,374.2 532.8,374.9 535.2,374.8 C537.6,374.7 545.0,373.5 547.7,373.3 C550.4,373.1 558.2,373.1 560.3,373.3 C562.4,373.5 565.9,374.6 567.8,375.3 C569.7,376.0 575.7,379.2 577.8,380.3 C579.9,381.4 585.9,384.4 587.8,385.4 C589.7,386.4 594.1,388.8 595.3,389.9 C596.5,391.0 598.8,394.2 599.1,395.4 C599.4,396.6 598.6,400.3 597.8,401.6 C597.0,402.9 593.5,406.7 591.6,407.9 C589.7,409.1 582.8,411.8 580.3,412.9 C577.8,414.0 570.5,416.9 567.8,417.9 C565.1,418.9 557.6,421.8 555.2,422.4 C552.8,423.0 547.3,423.6 545.2,423.4 C543.1,423.2 537.2,421.3 535.2,420.4 C533.2,419.5 528.3,416.3 526.4,415.4 C524.5,414.5 519.2,411.9 517.6,411.7 C516.0,411.5 512.7,412.9 511.4,413.4 C510.1,413.9 506.8,416.5 505.1,416.7 C503.4,416.9 497.2,415.8 495.1,415.4 C493.0,415.0 487.1,414.1 485.1,413.4 C483.1,412.7 477.8,410.1 476.3,409.2 C474.8,408.3 472.1,406.2 471.3,405.4 C470.5,404.6 468.7,402.7 468.8,401.6Z" fill="#ca6652" />
<path d="M658,396.6 C658.1,395.1 659.6,389.9 660.5,387.9 C661.4,385.9 665.2,379.9 666.8,377.8 C668.4,375.7 673.5,369.7 675.5,367.8 C677.5,365.9 683.2,361.9 685.6,360.3 C688.0,358.7 695.4,354.1 698.1,352.8 C700.8,351.5 707.7,348.6 710.6,347.8 C713.5,347.0 723.0,345.8 725.7,345.3 C728.4,344.8 733.3,343.6 735.7,342.7 C738.1,341.8 745.5,337.8 748.2,336.5 C750.9,335.2 758.5,331.3 760.8,330.2 C763.1,329.1 769.0,327.0 770,326.5 C771.0,326.0 768.9,326.5 770,325.7 C771.1,324.9 778.0,320.5 780.1,318.9 C782.2,317.3 788.0,312.4 790.1,310.7 C792.2,309.0 798.0,304.8 800.1,303.1 C802.2,301.4 808.0,296.8 810.1,295.1 C812.2,293.4 818.1,289.0 820.2,287.6 C822.3,286.2 828.1,282.8 830.2,282.1 C832.3,281.4 837.0,280.8 840.2,280.8 C843.4,280.8 856.0,282.0 860.3,282.1 C864.6,282.2 876.0,282.0 880.3,281.8 C884.6,281.6 896.1,280.4 900.4,280.1 C904.7,279.8 916.1,279.1 920.4,278.8 C924.7,278.5 936.8,278.0 940.5,277.6 C944.2,277.2 952.6,275.0 955.5,274.6 C958.4,274.2 965.9,273.7 968,273.8 C970.1,273.9 973.9,274.4 975.5,275.1 C977.1,275.8 981.5,278.7 983.1,280.1 C984.7,281.5 989.4,287.8 990.6,288.1 C991.8,288.4 993.2,283.8 994.3,282.6 C995.4,281.4 999.1,277.9 1000.6,277.1 C1002.1,276.3 1006.0,275.6 1008.1,275.1 C1010.2,274.6 1018.3,273.2 1020.7,272.6 C1023.1,272.0 1028.8,269.6 1030.7,269.6 C1032.6,269.6 1036.3,272.1 1038.2,272.6 C1040.1,273.1 1045.8,274.3 1048.2,274.6 C1050.6,274.9 1058.4,275.1 1060.8,275.1 C1063.2,275.1 1068.3,274.5 1070.4,274.6 C1072.5,274.7 1078.3,275.6 1080.4,276.3 C1082.5,277.0 1088.3,280.6 1090.4,281.3 C1092.5,282.0 1098.3,283.1 1100.4,283.1 C1102.5,283.1 1108.4,281.8 1110.5,281.3 C1112.6,280.8 1118.4,278.6 1120.5,278.1 C1122.6,277.6 1128.4,276.7 1130.5,276.3 C1132.6,275.9 1138.4,274.9 1140.5,274.6 C1142.6,274.3 1148.3,273.9 1150.6,273.8 C1152.9,273.7 1160.6,271.4 1161.8,273.3 C1163.0,275.2 1163.3,290.1 1161.8,291.9 C1160.3,293.7 1150.5,290.2 1148,290.1 C1145.5,290.0 1139.9,290.9 1138,291.4 C1136.1,291.9 1132.1,294.2 1130.5,295.1 C1128.9,296.0 1124.6,298.9 1123,300.1 C1121.4,301.3 1117.1,305.3 1115.5,306.4 C1113.9,307.5 1109.2,310.2 1107.9,310.7 C1106.6,311.2 1104.2,311.7 1102.9,311.4 C1101.6,311.1 1097.0,308.4 1095.4,307.7 C1093.8,307.0 1089.2,305.3 1087.9,305.2 C1086.6,305.1 1084.2,305.8 1082.9,306.4 C1081.6,307.0 1077.0,309.8 1075.4,310.7 C1073.8,311.6 1069.4,314.5 1067.8,314.7 C1066.2,314.9 1061.9,313.3 1060.3,312.7 C1058.7,312.1 1054.4,309.5 1052.8,308.9 C1051.2,308.3 1046.6,307.3 1045.3,307.2 C1044.0,307.1 1041.6,307.5 1040.3,308.2 C1039.0,308.9 1034.4,312.4 1032.8,313.9 C1031.2,315.4 1026.8,320.7 1025.2,322.7 C1023.6,324.7 1019.3,330.4 1017.7,332.7 C1016.1,335.0 1011.7,342.1 1010.2,344 C1008.7,345.9 1005.2,350.4 1003.9,350.8 C1002.6,351.2 999.2,348.7 997.7,347.8 C996.2,346.9 991.8,343.5 990.2,342.7 C988.6,341.9 984.1,340.9 982.6,340.2 C981.1,339.5 977.5,337.6 976.4,336.5 C975.3,335.4 973.5,330.9 972.6,330.2 C971.7,329.5 969.2,329.4 967.6,329.5 C966.0,329.6 959.5,330.8 957.6,331.5 C955.7,332.2 952.0,335.0 950.1,336.5 C948.2,338.0 942.1,343.5 940,345.3 C937.9,347.1 932.1,352.0 930,353.3 C927.9,354.6 922.5,356.8 920.4,357.8 C918.3,358.8 912.5,361.5 910.4,362.8 C908.3,364.1 902.5,368.3 900.4,370.3 C898.3,372.3 892.4,379.3 890.3,381.6 C888.2,383.9 882.2,390.1 880.3,391.6 C878.4,393.1 874.4,395.6 872.8,396.1 C871.2,396.6 866.9,396.9 865.3,396.6 C863.7,396.3 859.3,394.0 857.7,392.9 C856.1,391.8 851.8,387.9 850.2,386.6 C848.6,385.3 844.3,381.5 842.7,380.3 C841.1,379.1 836.8,376.5 835.2,375.8 C833.6,375.1 829.3,374.3 827.7,374.1 C826.1,373.9 821.8,373.7 820.2,374.1 C818.6,374.5 814.2,376.7 812.6,377.8 C811.0,378.9 807.0,382.5 805.1,384.1 C803.2,385.7 797.2,391.0 795.1,392.9 C793.0,394.8 787.2,400.0 785.1,401.6 C783.0,403.2 777.1,406.8 775,407.9 C772.9,409.0 766.6,411.2 765,411.7 C763.4,412.2 761.8,412.5 760,412.4 C758.2,412.3 750.8,410.9 748.2,410.4 C745.6,409.9 738.4,407.8 735.7,407.4 C733.0,407.0 725.9,406.6 723.2,406.7 C720.5,406.8 713.3,408.1 710.6,408.4 C707.9,408.7 700.8,409.3 698.1,409.2 C695.4,409.1 688.3,408.2 685.6,407.9 C682.9,407.6 675.3,407.0 673,406.7 C670.7,406.4 665.8,405.9 664.3,405.4 C662.8,404.9 659.9,402.5 659.2,401.6 C658.5,400.7 657.9,398.1 658,396.6Z" fill="#ca6652" />
<path d="M851.5,347.8 C851.6,346.3 853.1,341.6 854,340.2 C854.9,338.8 858.6,335.5 860.3,334.7 C862.0,333.9 868.2,333.0 870.3,332.7 C872.4,332.4 878.4,331.9 880.3,331.5 C882.2,331.1 886.3,329.5 887.8,329 C889.3,328.5 893.3,327.3 894.1,326.5 C894.9,325.7 895.2,322.5 895.3,321.4 C895.4,320.3 894.3,317.2 894.6,316.4 C894.9,315.6 896.8,314.2 897.8,313.9 C898.8,313.6 903.2,312.9 904.1,313.2 C905.0,313.5 906.5,315.7 906.6,316.4 C906.7,317.1 905.9,319.3 905.4,320.2 C904.9,321.1 902.4,323.8 901.6,324.7 C900.8,325.6 898.3,327.9 897.8,329 C897.3,330.1 896.9,333.7 896.6,335.2 C896.3,336.7 895.7,341.1 895.3,342.7 C894.9,344.3 893.6,348.7 892.8,350.3 C892.0,351.9 889.0,356.3 887.8,357.8 C886.6,359.3 882.9,362.9 881.6,364 C880.3,365.1 876.6,367.3 875.3,367.8 C874.0,368.3 870.3,369.4 869,369.1 C867.7,368.8 864.1,366.4 862.8,365.3 C861.5,364.2 857.6,360.2 856.5,359 C855.4,357.8 853.2,355.2 852.7,354 C852.2,352.8 851.4,349.3 851.5,347.8Z" fill="#a62a32" />
<path d="M1013.6,298.9 C1013.9,297.7 1016.8,293.3 1017.6,293.1 C1018.4,292.9 1021.1,296.0 1021.4,297.1 C1021.7,298.2 1021.2,302.0 1020.7,303.1 C1020.2,304.2 1017.6,307.1 1016.9,307.2 C1016.2,307.3 1014.8,304.8 1014.4,303.9 C1014.0,303.0 1013.3,300.1 1013.6,298.9Z" fill="#a62a32" />
<path d="M167.4,351.9 C167.9,345.4 171.4,352.5 172.1,353.2 C172.8,353.9 173.7,356.3 174,358.1 C174.3,359.9 174.9,367.0 175.2,369.7 C175.5,372.4 176.2,380.7 176.5,383.2 C176.8,385.7 177.5,391.7 177.9,392.9 C178.3,394.1 179.9,395.1 180.4,394.8 C180.9,394.5 181.9,391.0 182.3,390 C182.7,389.0 184.2,384.5 184.5,385.2 C184.8,385.9 185.1,393.5 185.2,396.8 C185.3,400.1 185.2,412.6 185.2,416.1 C185.2,419.6 185.1,428.3 184.8,429.3 C184.5,430.3 183.0,426.9 182.3,425.8 C181.6,424.7 179.4,420.1 178.5,419 C177.6,417.9 175.2,415.8 174,415.2 C172.8,414.6 168.1,420.6 167.4,413.8 C166.7,407.0 166.9,358.4 167.4,351.9Z" fill="#d2e4f0" />
<path d="M167.4,357.1 C167.8,352.1 170.1,358.9 170.7,360.4 C171.3,361.9 172.2,368.8 172.6,371.6 C173.0,374.4 173.8,384.3 174,387.1 C174.2,389.9 174.7,395.8 174.6,397.7 C174.5,399.6 173.5,403.4 173,404.5 C172.5,405.6 170.7,407.3 170.1,407.6 C169.5,407.9 167.7,412.4 167.4,407 C167.1,401.6 167.0,362.1 167.4,357.1Z" fill="#92c3dd" />
<path d="M177.5,316.5 C177.6,315.0 178.5,315.9 178.6,317.4 C178.7,318.9 178.7,329.5 178.6,331 C178.5,332.5 177.8,333.4 177.7,331.9 C177.6,330.4 177.4,318.0 177.5,316.5Z" fill="#d2e4f0" />
<path d="M1143,303.9 C1145.0,303.8 1159.8,301.0 1161.8,305.2 C1163.8,309.4 1162.6,340.3 1161.8,343.2 C1161.0,346.1 1155.5,335.2 1154.3,332.7 C1153.1,330.2 1151.4,322.5 1150.6,320.2 C1149.8,317.9 1147.6,312.9 1146.8,311.4 C1146.0,309.9 1143.4,307.2 1143,306.4 C1142.6,305.6 1141.0,304.0 1143,303.9Z" fill="#d2e4f0" />
</g>
<!-- map shadow -->
<path d="M141,46 L1102,46 L1246,253 L-2,253 Z" fill="#000" opacity="0.55" filter="url(#blur4)"/>
<rect x="0" y="249" width="1240" height="12" fill="url(#shade)"/>
<!-- axes -->
<rect x="166.1" y="249" width="2.9" height="385.8" fill="#353535"/>
<rect x="1159.1" y="249" width="3.9" height="385.8" fill="#353535"/>
<rect x="166.1" y="632.3" width="996.9" height="2.5" fill="#353535"/>
<rect x="166.1" y="248" width="996.9" height="2.2" fill="#444"/>
<g fill="#353535"><rect x="157.1" y="307.5" width="9.5" height="1.8"/><rect x="157.1" y="372.1" width="9.5" height="1.8"/><rect x="157.1" y="436.8" width="9.5" height="1.8"/><rect x="157.1" y="501.4" width="9.5" height="1.8"/><rect x="157.1" y="565.1" width="9.5" height="1.8"/><rect x="157.2" y="633" width="9.5" height="1.7"/><rect x="1163" y="348.6" width="7" height="1.8"/><rect x="1163" y="445.9" width="7" height="1.8"/><rect x="1163" y="543.4" width="7" height="1.8"/></g>
<!-- map -->
<path d="M138.3,43.3 L1098.5,43.3 L1240,248.7 L0,248.7 Z" fill="url(#ocean)"/>
<g clip-path="url(#trap)">
<g fill="url(#landg)">
<path d="M139.1,40 L58.1,162.8 L65.2,160.3 L77.7,159.8 L82.7,162.8 L90.2,159 L105.3,156.5 L117.8,152.8 L130.3,150.3 L140.4,146.5 L150.4,140.3 L160.4,135.2 L167.9,131.5 L172.9,126.5 L174.2,120.2 L171.7,115.2 L175.4,112.7 L180.5,111.4 L188,110.2 L193,108.2 L185.5,107.2 L175.4,107.7 L170.4,105.7 L175.4,102.7 L185.5,101.4 L194.2,99.6 L199.2,100.2 L203,103.2 L208,105.7 L213,108.9 L211.8,113.9 L210,117.7 L215.5,116.4 L223.1,113.9 L228.6,110.2 L229.3,106.4 L225.6,102.7 L226.8,100.2 L230,100.3 L240.6,95 L256.6,93.2 L269,90.6 L283.2,86.1 L295.6,80.8 L306.3,75.5 L313.4,71.1 L316.9,66.6 L313.4,64.8 L304.5,64 L299.2,62.7 L292.1,62.7 L301,59.5 L309.8,56.9 L322.3,54.2 L332.9,52.4 L354.2,51.5 L375.5,51.5 L384.4,52.1 L389.7,50.6 L398.6,48.9 L407.4,47.5 L416.3,46.2 L425.2,45.3 L434,43.9 L434,40Z"/>
<path d="M326.7,64 L327.6,68.4 L326.7,72.8 L327.6,76.4 L323.2,75.5 L319.6,78.1 L317.8,81.7 L319.6,83.5 L315.2,83.5 L311.6,84.4 L314.3,79.9 L316.9,75.5 L319.6,70.2 L321.4,66.6Z"/>
<path d="M299.2,93.2 L304.5,91.5 L309.8,87 L315.2,87.6 L320.5,89.7 L324.9,91.5 L320.5,93.2 L313.4,95.4 L306.3,94.6Z"/>
<path d="M301,98.6 L301.9,102.1 L298.3,105.6 L292.1,110.1 L286.8,113.6 L281.5,115.4 L276.1,116.3 L269.9,115.4 L263.7,118.1 L258.4,120.7 L255.7,119.8 L258.4,117.2 L265.5,113.6 L270.8,111 L277.9,110.1 L285,107.4 L290.3,103 L294.8,99.4 L296.5,95 L299.2,95.9Z"/>
<path d="M232.7,118.1 L240.6,115.9 L251.3,114.5 L258.4,115.4 L254.8,117.2 L246,118.1 L237.1,119.5Z"/>
<path d="M239.8,120.7 L247.7,119 L252.2,119.8 L246,121.6 L240.6,123Z"/>
<path d="M228.6,120.7 L234.4,121.6 L233.5,124.3 L230,126.1 L228.2,125.2Z"/>
<path d="M392.3,61.3 L396.8,57.7 L405.7,55.1 L416.3,52.4 L425.2,49.8 L434,47.1 L439.4,44.4 L450,43.9 L450,48.9 L442.9,49.8 L435.8,52.4 L428.7,55.1 L429.6,57.7 L422.5,60.4 L416.3,62.2 L407.4,64.8 L400.3,68.4 L394.1,71.6 L391.8,68.4Z"/>
<path d="M420.3,40 L435.3,43.5 L440.4,47.5 L455.4,48.8 L475.4,47.5 L495.5,45 L508,43.5 L508,40Z"/>
<path d="M573.2,40 L573.2,43.5 L578.2,47.5 L588.2,51.3 L600.8,50 L610,52.5 L600,52.5 L607.5,52 L615,51.3 L610,55.5 L600,59.5 L610,58 L620.1,54.3 L632.6,51.8 L645.1,49.3 L662.7,47.5 L675.2,48.8 L695.2,50 L712.8,52.5 L727.8,56.3 L740.4,61.3 L755.4,66.3 L770.4,71.3 L783,76.3 L793,81.4 L796.7,90.1 L800.5,98.9 L810.5,105.2 L823.1,112.7 L835.6,117.7 L850.6,124 L860.7,126.5 L873.2,128.2 L885.7,133.2 L898.2,138.2 L910,142.3 L915,148.3 L920.1,154 L930.1,159 L937.6,165.3 L950.1,170.3 L962.7,174.1 L975.2,176.6 L987.7,179.1 L1000.3,180.9 L1007.8,180.4 L1015.3,182.9 L1025.3,185.4 L1035.3,187.9 L1045.4,190.4 L1055.4,191.6 L1065.4,193.4 L1075.4,196.6 L1083,200.4 L1090.5,204.2 L1100.5,206.7 L1110.5,210.4 L1118,212.9 L1125.6,214.2 L1129.3,215.4 L1135.6,212.9 L1146.9,215.4 L1150.6,212.9 L1152.1,222 L1155.9,232 L1157.9,240 L1157.9,251 L1240.9,251 L1240.9,200.4 L1210,201.7 L1200.8,202.9 L1193.2,202.9 L1183.2,200.4 L1175.7,197.9 L1168.2,196.6 L1163.2,200.4 L1158.1,206.7 L1150.6,210.4 L1143.1,212.9 L1135.6,210.4 L1130.6,214.2 L1128.1,210.4 L1120.6,207.9 L1110.5,205.4 L1100.5,201.7 L1093,196.6 L1088,190.4 L1083,185.4 L1075.4,182.9 L1062.9,181.6 L1052.9,181.6 L1046.6,179.1 L1047.9,175.3 L1044.1,170.3 L1045.9,166.6 L1045.4,161.6 L1035.3,161.1 L1026.6,162.8 L1025.3,167.8 L1017.8,170.3 L1010.3,171.6 L1000.3,171.6 L990.2,167.8 L982.7,162.8 L976.4,156.5 L971.4,150.3 L968.2,142.8 L971.4,137.7 L977.7,134.7 L987.7,132.7 L1000.3,131.5 L1010.3,132.2 L1020.3,130.7 L1030.3,131.5 L1039.1,132.2 L1044.1,133.2 L1049.1,135.7 L1055.4,139.7 L1062.9,144.8 L1067.9,148 L1070.9,147.3 L1071.9,143.8 L1068.4,139 L1061.7,134 L1054.9,128.7 L1049.9,124.7 L1055.4,120.2 L1060.4,115.2 L1065.4,113.9 L1062.9,108.9 L1066.7,105.2 L1070.4,101.4 L1075.4,97.6 L1080.5,95.1 L1076.7,93.9 L1080.5,90.1 L1085.5,87.6 L1093,86.4 L1098,88.9 L1103,90.1 L1113,87.6 L1121.8,85.1 L1118,83.9 L1108,84.6 L1098,85.1 L1095.5,81.4 L1088,79.6 L1075.4,80.1 L1062.9,80.1 L1070.4,77.6 L1080.5,75.1 L1090.5,73.8 L1100.5,72.6 L1110.5,73.8 L1115.5,71.3 L1108,63.8 L1115.5,55 L1100.5,40Z"/>
<path d="M861.9,127.7 L869.4,130.7 L880.7,136.5 L892,142.3 L902,148.3 L907.8,154.8 L900.8,152.8 L890.7,147.8 L878.2,142.3 L869.4,138.2 L863.2,133.2Z"/>
<path d="M1057.9,156.5 L1070.4,155.3 L1083,156.5 L1095.5,160.3 L1108,162.8 L1120.6,164.8 L1113,165.8 L1100.5,164.1 L1088,161.6 L1075.4,159 L1062.9,159Z"/>
<path d="M1130.6,167.8 L1140.6,166.6 L1150.6,168.3 L1163.2,170.3 L1155.6,172.3 L1148.1,174.1 L1138.1,171.6Z"/>
<path d="M1105.5,171.6 L1113,170.8 L1118,172.8 L1110.5,173.6Z"/>
<path d="M1171.9,171.6 L1180.7,172.1 L1176.9,173.6Z"/>
<path d="M637.6,166.6 L642.6,167.3 L640.1,169.8Z"/>
<path d="M629.6,162.3 L632.6,162.8 L631.1,164.1Z"/>
<path d="M623.1,160.3 L625.6,161.1 L624.1,162.1Z"/>
<path d="M614.5,157.8 L616.5,158.3 L615.3,159.3Z"/>
<path d="M65.2,170 L69.7,167.4 L77.4,165.7 L81.9,166.5 L78.7,169.4 L72.3,171.7 L67.1,171.9Z"/>
<path d="M77.4,163.5 L80.6,161 L81.5,162.9 L79,164.7Z"/>
<path d="M25.8,206.8 L31.6,201 L37.4,192.6 L43.9,184.8 L49.7,177.1 L52.9,180.3 L53.9,184.8 L51.6,190 L47.7,194.5 L41.3,198.8 L34.8,201.4 L29.7,205.5Z"/>
<path d="M145.8,155.8 L149.7,151.9 L157.4,149.4 L159.4,151 L153.5,155.2 L147.7,158.4Z"/>
<path d="M122.6,184.8 L125.2,180.3 L130.3,176.5 L135.5,172.6 L140.6,171.3 L145.2,172.6 L143.2,175.8 L139.4,179.7 L134.2,182.9 L129,185.5 L124.5,186.8Z"/>
<path d="M120.6,191.3 L124.5,190 L127.1,192.6 L123.9,195.2 L121.3,194.5Z"/>
<path d="M129,188.7 L134.2,187.7 L138.1,190 L135.5,193.2 L131.6,192.6Z"/>
<path d="M138.7,188.7 L141.9,189.4 L145.2,193.9 L147.7,195.2 L147.1,199.7 L143.2,200.3 L141.3,195.8 L139.4,192.6Z"/>
<path d="M123.2,199 L129,196.5 L134.2,195.2 L136.8,197.7 L132.9,201 L127.7,202.9 L123.9,202.3Z"/>
<path d="M121.9,205.5 L127.1,203.5 L132.9,202.3 L136.8,201 L140,202.9 L142.6,205.5 L139.4,207.4 L135.5,205.5 L130.3,206.8 L123.9,208.1Z"/>
<path d="M122.6,218.4 L126.5,214.5 L131.6,211.9 L136.8,210 L141.9,207.4 L143.9,210.6 L141.9,215.2 L136.8,218.4 L131.6,220.3 L127.1,222.3 L123.9,221Z"/>
<path d="M108.4,219 L113.5,215.2 L120,211.9 L125.8,210.6 L127.1,213.2 L121.3,214.5 L116.1,217.1 L111,219.7Z"/>
<path d="M84.5,210.6 L90.3,207.4 L98.1,203.5 L105.8,199.7 L108.1,200.6 L101.9,204.8 L94.2,208.7 L87.7,211.7Z"/>
<path d="M23.2,240.3 L32.3,233.9 L42.6,230 L54.2,227.4 L61.9,224.8 L68.4,222.3 L74.8,218.4 L78.7,219 L80.6,222.3 L85.8,224.2 L82.6,226.1 L76.1,227.4 L72.3,232.6 L69.7,240.3 L64.5,245.5 L56.8,249.4 L38.7,250.6 L25.8,248.1Z"/>
<path d="M-2.6,250.6 L1.3,244.8 L7.7,241 L15.5,240.3 L20.6,242.3 L19.4,246.1 L15.5,251.9 L-2.6,251.9Z"/>
<path d="M72.3,246.8 L82.6,243.5 L94.2,242.9 L107.1,242.3 L112.3,241 L111,244.2 L100.6,246.1 L90.3,246.8 L80,248.3Z"/>
<path d="M127.7,246.8 L131.6,241.6 L138.1,237.1 L140,238.4 L134.2,243.5 L130.3,248.7Z"/>
</g>
<g clip-path="url(#landclip)">
<g fill="#000" filter="url(#grain)"><path d="M138.3,43.3 L1098.5,43.3 L1240,248.7 L0,248.7 Z"/></g>
<path d="M1140,190 L1260,190 L1260,260 L1160,260 Z" fill="#fff" opacity="0.1"/>
<g fill="#fff" filter="url(#relief)">
<path d="M825.6,112.7 L835.6,117.7 L860.7,127.7 L890.7,142.8 L910,147.8 L910,147.8 L937.6,165.3 L975.2,176.6 L1007.8,180.4 L1045.4,190.4 L1075.4,196.6 L1100.5,206.7 L1129.3,215.4 L1150.6,212.9 L1150.6,200.4 L1100.5,197.9 L1083,184.1 L1050.4,180.4 L1025.3,169.1 L1000.3,170.3 L975.2,155.3 L967.7,140.3 L950.1,122.7 L925.1,102.7 L910,93.9 L910,102.7Z" opacity="0.85"/>
<path d="M1148.1,195.4 L1225.8,195.4 L1225.8,251 L1157.9,251 L1155.9,232 L1150.6,212.9Z" opacity="0.7"/>
<path d="M105.3,90.1 L130.3,55 L175.4,50 L250.6,55 L275.7,70.1 L250.6,90.1 L225.6,97.6 L175.4,100.2 L172.9,126.5 L150.4,140.3 L117.8,152.8 L75.2,159.8 L65.2,160.3 L82.7,135.2Z" opacity="0.25"/>
<path d="M727.8,56.3 L755.4,66.3 L783,76.3 L796.7,90.1 L810.5,105.2 L825.6,112.7 L910,102.7 L910,90.1 L875.7,70.1 L825.6,55 L775.4,50 L727.8,50Z" opacity="0.4"/>
</g>
</g>
<g fill="url(#ocean)"><path d="M918.8,47.5 L921.3,40 L996.5,40 L997.2,45.5 L1000.3,50 L1010.3,53.8 L1015.3,58.8 L1012.8,65.1 L1007.8,70.1 L1000.3,68.8 L994,63.8 L982.7,61.3 L970.2,59.5 L950.1,58 L932.6,56.3 L922.6,52.5Z"/><path d="M1023,42 L1039,50 L1050,53.5 L1057,54 L1062,50 L1073,53.5 L1084,57 L1100,61.5 L1112,64 L1100,42Z"/></g>
<path d="M1098.5,43.3 L1240,248.7" stroke="#4a4a4a" stroke-width="1.8" opacity="0.7" fill="none"/>
<path d="M138.3,43.3 L143,43.3 L5,248.7 L0,248.7 Z" fill="#fff" opacity="0.2"/>
</g>
<!-- title -->
<text x="1.4" y="26.3" textLength="574.6" lengthAdjust="spacingAndGlyphs" font-size="25.5" fill="#333" font-weight="normal" font-style="normal" >Equatorial subsurface temperature anomalies</text>
<text x="905" y="107.8" textLength="83.5" lengthAdjust="spacingAndGlyphs" font-size="27.7" fill="#fff" font-weight="normal" font-style="normal" >Jun 12</text>
<g>
<text x="20" y="240.5" textLength="102.4" lengthAdjust="spacingAndGlyphs" font-size="24" fill="#fff" font-weight="normal" font-style="italic" stroke="#fff" stroke-width="0.4" filter="url(#tsh)">Indonesia</text>
<text x="532.4" y="232.9" textLength="146.5" lengthAdjust="spacingAndGlyphs" font-size="23.6" fill="#2e2e2e" font-weight="normal" font-style="italic" >Pacific Ocean</text>
<text x="1067.6" y="241" textLength="157.8" lengthAdjust="spacingAndGlyphs" font-size="24" fill="#fff" font-weight="normal" font-style="italic" stroke="#fff" stroke-width="0.4" filter="url(#tsh)">South America</text>
</g>
<!-- axis labels -->
<text x="126.6" y="316.1" textLength="23" lengthAdjust="spacingAndGlyphs" font-size="22.6" fill="#333" font-weight="normal" font-style="normal" >50</text>
<text x="115.3" y="381" textLength="34.3" lengthAdjust="spacingAndGlyphs" font-size="22.6" fill="#333" font-weight="normal" font-style="normal" >100</text>
<text x="115.5" y="446.1" textLength="34.1" lengthAdjust="spacingAndGlyphs" font-size="22.6" fill="#333" font-weight="normal" font-style="normal" >150</text>
<text x="114.2" y="510.8" textLength="35.4" lengthAdjust="spacingAndGlyphs" font-size="22.6" fill="#333" font-weight="normal" font-style="normal" >200</text>
<text x="113.9" y="576.2" textLength="35.7" lengthAdjust="spacingAndGlyphs" font-size="22.6" fill="#333" font-weight="normal" font-style="normal" >250</text>
<text x="1166.8" y="356.9" textLength="39.3" lengthAdjust="spacingAndGlyphs" font-size="24.4" fill="#333" font-weight="normal" font-style="normal" >250</text>
<text x="1170" y="453" textLength="37.4" lengthAdjust="spacingAndGlyphs" font-size="24.4" fill="#333" font-weight="normal" font-style="normal" >500</text>
<text x="1168" y="550.6" textLength="38.6" lengthAdjust="spacingAndGlyphs" font-size="24.4" fill="#333" font-weight="normal" font-style="normal" >750</text>
<text transform="translate(102.3,440) rotate(-90)" text-anchor="middle" font-size="24" font-weight="bold" fill="#333" textLength="107.2" lengthAdjust="spacingAndGlyphs">depth <tspan font-weight="normal">(m)</tspan></text>
<text transform="translate(1220.4,447.7) rotate(90)" text-anchor="middle" font-size="24" font-weight="bold" fill="#333" textLength="107.4" lengthAdjust="spacingAndGlyphs">depth <tspan font-weight="normal">(ft)</tspan></text>
<!-- credit -->
<text x="1059.3" y="677.9" textLength="178.6" lengthAdjust="spacingAndGlyphs" font-size="20.8" fill="#999" font-weight="normal" font-style="normal" >NOAA Climate.gov</text>
<text x="1059.2" y="699.8" textLength="100" lengthAdjust="spacingAndGlyphs" font-size="20.8" fill="#999" font-weight="normal" font-style="normal" >Data: CPC</text>
<!-- legend -->
<text x="386.9" y="750.6" textLength="423.6" lengthAdjust="spacingAndGlyphs" font-size="22.6" fill="#333" font-weight="bold" font-style="normal" >Difference from average temperature</text>
<text x="817.3" y="750.6" textLength="46.8" lengthAdjust="spacingAndGlyphs" font-size="22.6" fill="#333" font-weight="normal" font-style="normal" >(°C)</text>
<rect x="368.70" y="762.5" width="56.05" height="26.3" fill="#2166ac" stroke="#333" stroke-width="1.5"/>
<rect x="424.75" y="762.5" width="56.05" height="26.3" fill="#4393c3" stroke="#333" stroke-width="1.5"/>
<rect x="480.80" y="762.5" width="56.05" height="26.3" fill="#92c5de" stroke="#333" stroke-width="1.5"/>
<rect x="536.85" y="762.5" width="56.05" height="26.3" fill="#d1e5f0" stroke="#333" stroke-width="1.5"/>
<rect x="592.90" y="762.5" width="56.05" height="26.3" fill="#ffffff" stroke="#333" stroke-width="1.5"/>
<rect x="648.95" y="762.5" width="56.05" height="26.3" fill="#fddbc7" stroke="#333" stroke-width="1.5"/>
<rect x="705.00" y="762.5" width="56.05" height="26.3" fill="#f4a582" stroke="#333" stroke-width="1.5"/>
<rect x="761.05" y="762.5" width="56.05" height="26.3" fill="#d6604d" stroke="#333" stroke-width="1.5"/>
<rect x="817.10" y="762.5" width="56.05" height="26.3" fill="#b2182b" stroke="#333" stroke-width="1.5"/>
<text x="353.2" y="817.1" textLength="25.1" lengthAdjust="spacingAndGlyphs" font-size="22" fill="#333" font-weight="normal" font-style="normal" >−6</text>
<text x="409.2" y="817.1" textLength="25.1" lengthAdjust="spacingAndGlyphs" font-size="22" fill="#333" font-weight="normal" font-style="normal" >−4</text>
<text x="467.4" y="817.1" textLength="24.5" lengthAdjust="spacingAndGlyphs" font-size="22" fill="#333" font-weight="normal" font-style="normal" >−2</text>
<text x="523.2" y="817.1" textLength="22.9" lengthAdjust="spacingAndGlyphs" font-size="22" fill="#333" font-weight="normal" font-style="normal" >−1</text>
<text x="563.7" y="817.1" textLength="46.6" lengthAdjust="spacingAndGlyphs" font-size="22" fill="#333" font-weight="normal" font-style="normal" >−0.5</text>
<text x="631.3" y="817.1" textLength="35.1" lengthAdjust="spacingAndGlyphs" font-size="22" fill="#333" font-weight="normal" font-style="normal" >0.5</text>
<text x="699" y="817.1" textLength="10.3" lengthAdjust="spacingAndGlyphs" font-size="22" fill="#333" font-weight="normal" font-style="normal" >1</text>
<text x="754.1" y="817.1" textLength="13" lengthAdjust="spacingAndGlyphs" font-size="22" fill="#333" font-weight="normal" font-style="normal" >2</text>
<text x="806.1" y="817.1" textLength="14.5" lengthAdjust="spacingAndGlyphs" font-size="22" fill="#333" font-weight="normal" font-style="normal" >4</text>
<text x="866.6" y="817.1" textLength="13.4" lengthAdjust="spacingAndGlyphs" font-size="22" fill="#333" font-weight="normal" font-style="normal" >6</text>
</svg>
</body></html>
